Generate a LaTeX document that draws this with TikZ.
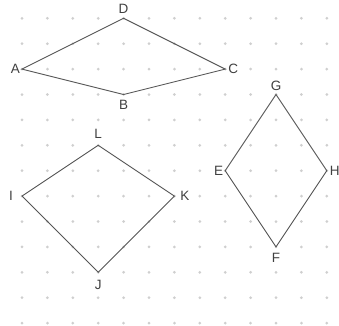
\documentclass[tikz,border=0pt]{standalone}
\usepackage{fontspec}
\setmainfont{Liberation Sans}
\begin{document}
\begin{tikzpicture}[x=1pt,y=-1pt,
  gdot/.style={fill=dotgray,draw=none},
  edge/.style={draw=linegray,line width=0.9pt,line join=miter},
  lbl/.style={text=labelgray,font=\fontsize{13.5}{13.5}\selectfont,inner sep=0pt}]
\definecolor{dotgray}{HTML}{CFCFCF}
\definecolor{linegray}{HTML}{555555}
\definecolor{labelgray}{HTML}{404040}
\useasboundingbox (0,0) rectangle (339,325);
\fill[white] (0,0) rectangle (339,325);
\foreach \i in {0,...,12}{
  \foreach \j in {0,...,12}{
    \fill[gdot] ({22+25.4*\i},{18.3+25.4*\j}) circle (1.5);
  }
}
% vertices
\coordinate (A) at ({22+25.4*0},{18.3+25.4*2});
\coordinate (B) at ({22+25.4*4},{18.3+25.4*3});
\coordinate (C) at ({22+25.4*8},{18.3+25.4*2});
\coordinate (D) at ({22+25.4*4},{18.3+25.4*0});
\coordinate (E) at ({22+25.4*8},{18.3+25.4*6});
\coordinate (F) at ({22+25.4*10},{18.3+25.4*9});
\coordinate (G) at ({22+25.4*10},{18.3+25.4*3});
\coordinate (H) at ({22+25.4*12},{18.3+25.4*6});
\coordinate (I) at ({22+25.4*0},{18.3+25.4*7});
\coordinate (J) at ({22+25.4*3},{18.3+25.4*10});
\coordinate (K) at ({22+25.4*6},{18.3+25.4*7});
\coordinate (L) at ({22+25.4*3},{18.3+25.4*5});
% shapes
\draw[edge] (A) -- (B) -- (C) -- (D) -- cycle;
\draw[edge] (E) -- (F) -- (H) -- (G) -- cycle;
\draw[edge] (I) -- (J) -- (K) -- (L) -- cycle;
% labels
\node[lbl] (lA) at ([xshift=-6.5]A) {A};
\node[lbl] (lB) at ([yshift=-10.5]B) {B};
\node[lbl] (lC) at ([xshift=8]C) {C};
\node[lbl] (lD) at ([yshift=9.5]D) {D};
\node[lbl] (lE) at ([xshift=-6.5]E) {E};
\node[lbl] (lF) at ([yshift=-10.5]F) {F};
\node[lbl] (lG) at ([yshift=8.5]G) {G};
\node[lbl] (lH) at ([xshift=8]H) {H};
\node[lbl] (lI) at ([xshift=-11]I) {I};
\node[lbl] (lJ) at ([yshift=-13]J) {J};
\node[lbl] (lK) at ([xshift=10.5]K) {K};
\node[lbl] (lL) at ([yshift=11]L) {L};
\end{tikzpicture}
\end{document}
